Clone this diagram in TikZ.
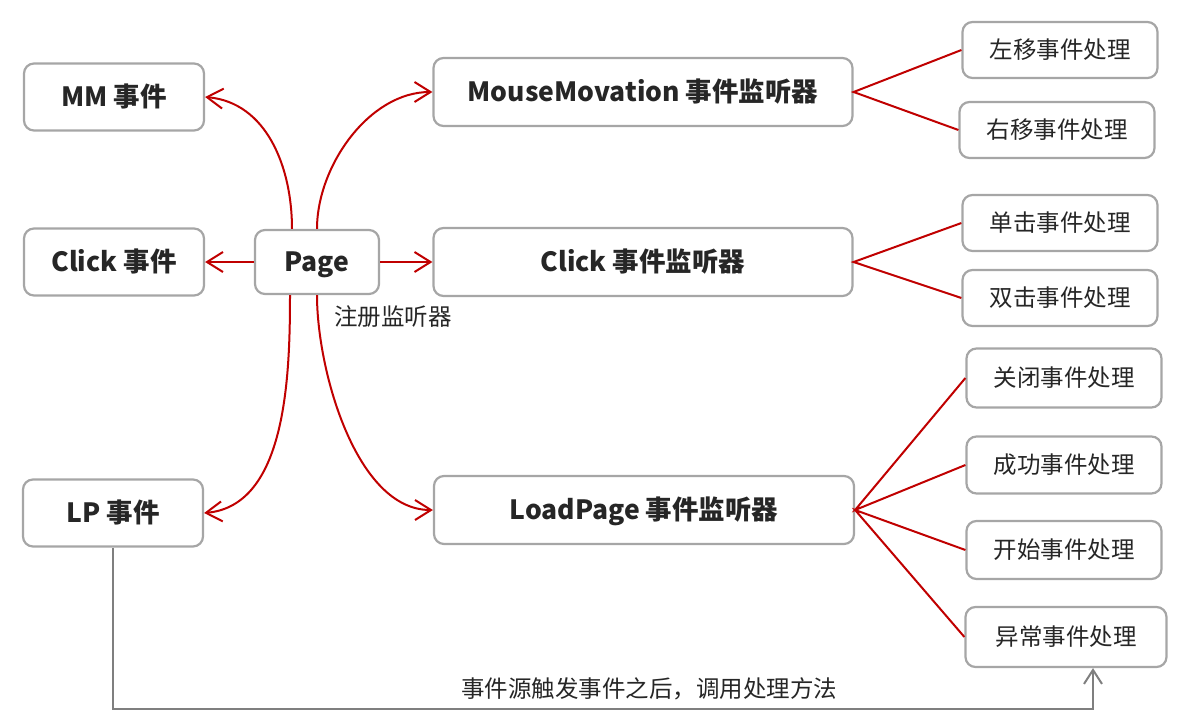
\documentclass[tikz,border=0pt]{standalone}
\usepackage{fontspec}
\setmainfont{Noto Sans CJK SC}
\usetikzlibrary{arrows.meta}
\definecolor{redline}{HTML}{C00000}
\definecolor{boxgray}{HTML}{A6A6A6}
\definecolor{txt}{HTML}{262626}
\definecolor{graylinec}{HTML}{7F7F7F}
\tikzset{
  box/.style={draw=boxgray, line width=2.2pt, rounded corners=10pt, fill=white, inner sep=0pt, text=txt, text depth=0pt},
  mainbox/.style={box, font=\fontsize{26.5}{30}\selectfont\bfseries, text height=19pt},
  handler/.style={box, minimum width=195pt, minimum height=56pt, font=\fontsize{23.5}{27}\selectfont, text height=17pt},
  redc/.style={draw=redline, line width=2pt},
  redarrow/.style={redc, -{Straight Barb[length=16pt, width=20pt, line width=2pt]}},
  graylink/.style={draw=graylinec, line width=2.6pt, -{Straight Barb[length=14pt, width=18pt, line width=2pt]}},
  lbl/.style={text=txt, font=\fontsize{23.5}{27}\selectfont, inner sep=0pt}
}
\begin{document}
\begin{tikzpicture}[x=1pt,y=-1pt]
\useasboundingbox (0,0) rectangle (1184,725);
% left event nodes
\node[mainbox, minimum width=180pt, minimum height=67pt] (mm) at (114,97) {MM 事件};
\node[mainbox, minimum width=180pt, minimum height=67pt] (ce) at (114,262) {Click 事件};
\node[mainbox, minimum width=180pt, minimum height=67pt] (lp) at (113,513) {LP 事件};
% page
\node[mainbox, minimum width=124pt, minimum height=64pt] (page) at (317,262) {Page};
% listeners
\node[mainbox, minimum width=419pt, minimum height=68pt] (ml) at (643,92) {MouseMovation 事件监听器};
\node[mainbox, minimum width=419pt, minimum height=68pt] (cl) at (643,262) {Click 事件监听器};
\node[mainbox, minimum width=420pt, minimum height=68pt] (ll) at (644,510) {LoadPage 事件监听器};
% handlers
\node[handler] (zy) at (1060,50) {左移事件处理};
\node[handler] (yy) at (1057,130) {右移事件处理};
\node[handler] (dj) at (1060,223) {单击事件处理};
\node[handler] (sj) at (1060,298) {双击事件处理};
\node[handler, minimum height=59pt] (gb) at (1064,378) {关闭事件处理};
\node[handler, minimum height=57pt] (cg) at (1064,465) {成功事件处理};
\node[handler, minimum height=58pt] (ks) at (1064,550) {开始事件处理};
\node[handler, minimum width=201pt, minimum height=60pt] (yc) at (1066,637) {异常事件处理};
% labels
\node[lbl] (reg) at (393,317) {注册监听器};
\node[lbl] (call) at (649,689) {事件源触发事件之后，调用处理方法};
% page connectors
\draw[redarrow] ([xshift=-25pt]page.north) to[out=90, in=-5, looseness=1.0] (mm.east);
\draw[redarrow] (page.north) to[out=90, in=180, looseness=0.9] (ml.west);
\draw[redarrow] (page.west) -- (ce.east);
\draw[redarrow] (page.east) -- (cl.west);
\draw[redarrow] ([xshift=-27pt]page.south) to[out=-90, in=5, looseness=0.9] (lp.east);
\draw[redarrow] (page.south) to[out=-90, in=180, looseness=0.8] (ll.west);
% listener to handlers
\draw[redc] (zy.west) -- (ml.east) -- (yy.west);
\draw[redc] (dj.west) -- (cl.east) -- (sj.west);
\draw[redc] (gb.west) -- (ll.east) -- (cg.west);
\draw[redc] (ks.west) -- (ll.east) -- (yc.west);
% bottom gray link
\coordinate (bot) at (116,709);
\draw[graylink] (lp.south) -- (lp.south |- bot) -| ([xshift=27pt]yc.south);
\end{tikzpicture}
\end{document}
